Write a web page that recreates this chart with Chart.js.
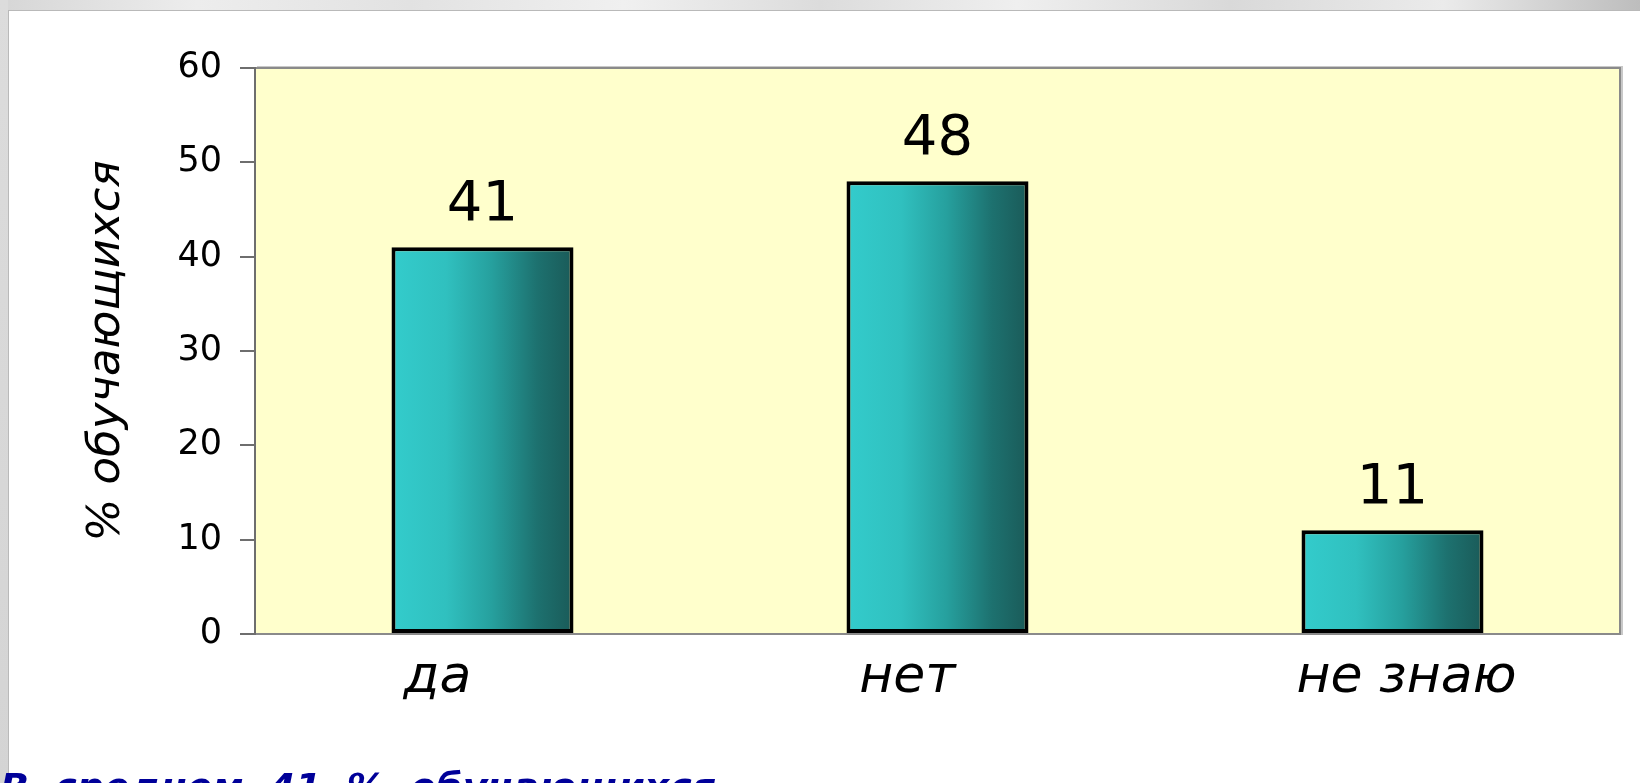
<!DOCTYPE html>
<html>
<head>
<meta charset="utf-8">
<script src="https://cdn.jsdelivr.net/npm/chart.js@4"></script>
<style>
  html, body { margin: 0; padding: 0; }
  body { width: 1640px; height: 783px; overflow: hidden; position: relative; background: #fff; font-family: "DejaVu Sans", sans-serif; }
  /* slide frame: grey strip on top and left, white panel */
  .strip-top { position: absolute; left: 0; top: 0; width: 1640px; height: 10px;
    background: linear-gradient(90deg, #d6d6d6 0%, #ededed 12%, #e2e2e2 25%, #f0f0f0 38%, #dcdcdc 50%, #efefef 62%, #d9d9d9 75%, #ebebeb 88%, #bdbdbd 100%); }
  .strip-left { position: absolute; left: 0; top: 0; width: 8px; height: 783px;
    background: linear-gradient(180deg, #dcdcdc, #d4d4d4); }
  .panel { position: absolute; left: 8px; top: 10px; width: 1640px; height: 800px; background: #fff;
    border-top: 1px solid #b9b9b9; border-left: 1px solid #b9b9b9; }
  #chart { position: absolute; left: 0; top: 0; }
  .note { position: absolute; left: 0; top: 765px; white-space: nowrap; color: #000099;
    font: italic bold 38px "DejaVu Sans", sans-serif; word-spacing: 12px; }
</style>
</head>
<body>
<div class="strip-top"></div>
<div class="strip-left"></div>
<div class="panel"></div>
<canvas id="chart" width="1640" height="783"></canvas>
<div class="note">В среднем 41 % обучающихся</div>
<script>
// values
const categories = ['да', 'нет', 'не знаю'];
const percents = [41, 48, 11];
const yTicks = [0, 10, 20, 30, 40, 50, 60];
const yTitle = '% обучающихся';

const PLOT_BG = '#FFFFCC';
const AXIS = '#6e6e6e';
// the original slide has its category captions slightly off-centre
const labelShift = [-45, -30, 14];

// horizontal cyan -> dark teal fill, one gradient per bar
function barFill(ctx) {
  const chart = ctx.chart;
  const x = chart.scales.x;
  if (!chart.chartArea || !x || ctx.dataIndex === undefined) return '#2cb5b5';
  const cx = x.getPixelForTick(ctx.dataIndex);
  const half = (x.width / categories.length) * 0.4 / 2;
  const g = chart.ctx.createLinearGradient(cx - half, 0, cx + half, 0);
  g.addColorStop(0, '#33CCCC');
  g.addColorStop(0.3, '#30C0BF');
  g.addColorStop(0.55, '#26A09E');
  g.addColorStop(0.8, '#1D716F');
  g.addColorStop(1, '#1A5A58');
  return g;
}

// yellow plot area with grey frame on top/right
const plotFrame = {
  id: 'plotFrame',
  beforeDraw(chart) {
    const { ctx, chartArea: a } = chart;
    ctx.save();
    ctx.fillStyle = PLOT_BG;
    ctx.fillRect(a.left, a.top, a.right - a.left, a.bottom - a.top);
    ctx.strokeStyle = '#c8c8c8';
    ctx.lineWidth = 2;
    ctx.beginPath();
    ctx.moveTo(a.left + 2, a.top - 1);
    ctx.lineTo(a.right + 2, a.top - 1);
    ctx.lineTo(a.right + 2, a.bottom + 1);
    ctx.stroke();
    ctx.strokeStyle = '#8a8a8a';
    ctx.beginPath();
    ctx.moveTo(a.left, a.top);
    ctx.lineTo(a.right, a.top);
    ctx.lineTo(a.right, a.bottom);
    ctx.stroke();
    ctx.restore();

    // nudge the x captions (cached label items are reused by the draw)
    const items = chart.scales.x.getLabelItems();
    items.forEach((it, i) => { it.options.translation[0] += labelShift[i] || 0; });
  }
};

// value above each bar
const valueLabels = {
  id: 'valueLabels',
  afterDatasetsDraw(chart) {
    const { ctx } = chart;
    const meta = chart.getDatasetMeta(0);
    ctx.save();
    ctx.font = '56px "DejaVu Sans"';
    ctx.fillStyle = '#000';
    ctx.textAlign = 'center';
    ctx.textBaseline = 'alphabetic';
    meta.data.forEach((bar, i) => {
      ctx.fillText(String(percents[i]), bar.x, bar.y - 27);
    });
    ctx.restore();
  }
};

new Chart(document.getElementById('chart'), {
  type: 'bar',
  data: {
    labels: categories,
    datasets: [{
      data: percents,
      backgroundColor: barFill,
      borderColor: '#000',
      borderWidth: 4,
      borderSkipped: false,
      barPercentage: 0.4,
      categoryPercentage: 1
    }]
  },
  options: {
    responsive: false,
    animation: false,
    devicePixelRatio: 1,
    layout: { padding: { left: 8, top: 68, right: 20, bottom: 0 } },
    plugins: { legend: { display: false }, tooltip: { enabled: false } },
    scales: {
      x: {
        grid: { display: false, drawTicks: false },
        border: { color: '#8a8a8a', width: 2 },
        ticks: { color: '#000', padding: 13, font: { family: 'DejaVu Sans', size: 52, style: 'italic' } },
        afterFit(s) { s.height = 149; }
      },
      y: {
        min: 0, max: 60,
        afterBuildTicks(s) { s.ticks = yTicks.map(v => ({ value: v })); },
        grid: { drawOnChartArea: false, drawTicks: true, tickLength: 15, color: AXIS, lineWidth: 2 },
        border: { color: AXIS, width: 2 },
        ticks: { color: '#000', padding: 18, font: { family: 'DejaVu Sans', size: 35 } },
        title: {
          display: true, text: yTitle, color: '#000',
          font: { family: 'DejaVu Sans', size: 45, style: 'italic' },
          padding: { top: 72, bottom: 0 }
        },
        afterFit(s) { s.width = 247; }
      }
    }
  },
  plugins: [plotFrame, valueLabels]
});
</script>
</body>
</html>
